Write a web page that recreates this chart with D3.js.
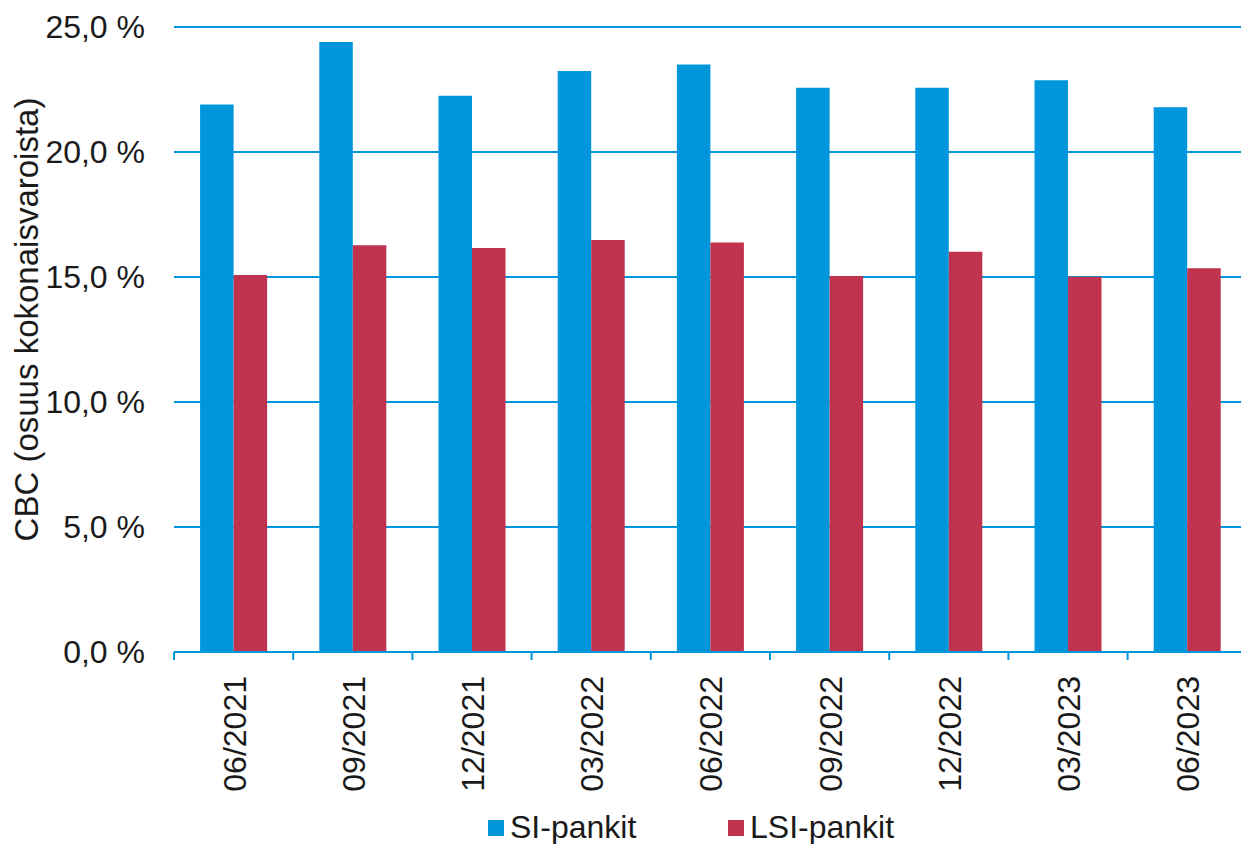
<!DOCTYPE html>
<html>
<head>
<meta charset="utf-8">
<script src="https://cdn.jsdelivr.net/npm/d3@7"></script>
<style>
  html, body { margin: 0; padding: 0; background: #fff; overflow: hidden; }
  svg { display: block; font-family: "Liberation Sans", Arial, sans-serif; }
</style>
</head>
<body>
<svg id="chart" width="1241" height="844"></svg>
<script>
const categories = ["06/2021","09/2021","12/2021","03/2022","06/2022","09/2022","12/2022","03/2023","06/2023"];
const seriesNames = ["SI-pankit","LSI-pankit"];
const siValues  = [21.9, 24.4, 22.25, 23.24, 23.5, 22.57, 22.57, 22.87, 21.79];
const lsiValues = [15.08, 16.27, 16.16, 16.48, 16.38, 15.04, 16.01, 15.01, 15.35];
const yTicks = [0, 5, 10, 15, 20, 25];
const yTitle = "CBC (osuus kokonaisvaroista)";
const colors = ["#0096DB", "#C0334F"];

const svg = d3.select("#chart");
const plotLeft = 174, bandStep = 119.2;
const plotTop = 27, plotBottom = 652;

const x0 = d3.scaleBand().domain(categories).range([plotLeft, plotLeft + bandStep * categories.length]).padding(0);
const x1 = d3.scaleBand().domain(seriesNames).range([0, x0.bandwidth()]).paddingInner(0).paddingOuter(0.779);
const y = d3.scaleLinear().domain([0, 25]).range([plotBottom, plotTop]);

const fmt = v => d3.format(".1f")(v).replace(".", ",") + " %";

// gridlines
svg.append("g").selectAll("line").data(yTicks.filter(t => t > 0)).join("line")
  .attr("x1", plotLeft).attr("x2", 1241)
  .attr("y1", d => y(d)).attr("y2", d => y(d))
  .attr("stroke", "#0096DB").attr("stroke-width", 2);

// y tick labels
svg.append("g").selectAll("text").data(yTicks).join("text")
  .attr("x", 145).attr("y", d => y(d)).attr("dy", "0.35em")
  .attr("text-anchor", "end").attr("font-size", 32).attr("fill", "#1a1a1a")
  .text(fmt);

// y title
svg.append("text")
  .attr("transform", `translate(38,${(plotTop + plotBottom) / 2 - 20}) rotate(-90)`)
  .attr("text-anchor", "middle").attr("font-size", 33).attr("fill", "#1a1a1a")
  .text(yTitle);

// bars
const data = categories.map((c, i) => ({ cat: c, vals: [siValues[i], lsiValues[i]] }));
const groups = svg.append("g").selectAll("g").data(data).join("g")
  .attr("transform", d => `translate(${x0(d.cat)},0)`);
groups.selectAll("rect").data(d => d.vals.map((v, j) => ({ s: seriesNames[j], v, j }))).join("rect")
  .attr("x", d => x1(d.s)).attr("width", x1.bandwidth())
  .attr("y", d => y(d.v)).attr("height", d => y(0) - y(d.v))
  .attr("fill", d => colors[d.j]);

// x axis
const xAxis = svg.append("g");
xAxis.append("line").attr("x1", plotLeft).attr("x2", 1241).attr("y1", plotBottom).attr("y2", plotBottom)
  .attr("stroke", "#0096DB").attr("stroke-width", 2);
const tickPos = categories.map(c => x0(c));
xAxis.selectAll("line.tick").data(tickPos).join("line").attr("class", "tick")
  .attr("x1", d => d).attr("x2", d => d).attr("y1", plotBottom).attr("y2", plotBottom + 8)
  .attr("stroke", "#0096DB").attr("stroke-width", 2);
xAxis.selectAll("text").data(categories).join("text")
  .attr("transform", d => `translate(${x0(d) + x0.bandwidth() / 2 + 12},${plotBottom + 24}) rotate(-90)`)
  .attr("text-anchor", "end").attr("font-size", 32).attr("fill", "#1a1a1a")
  .text(d => d);

// legend
const legendX = [488, 728];
const lg = svg.append("g").selectAll("g").data(seriesNames).join("g")
  .attr("transform", (d, i) => `translate(${legendX[i]},0)`);
lg.append("rect").attr("x", 0).attr("y", 820).attr("width", 16).attr("height", 16)
  .attr("fill", (d, i) => colors[i]);
lg.append("text").attr("x", 22).attr("y", 838).attr("font-size", 32).attr("fill", "#1a1a1a")
  .text(d => d);
</script>
</body>
</html>
